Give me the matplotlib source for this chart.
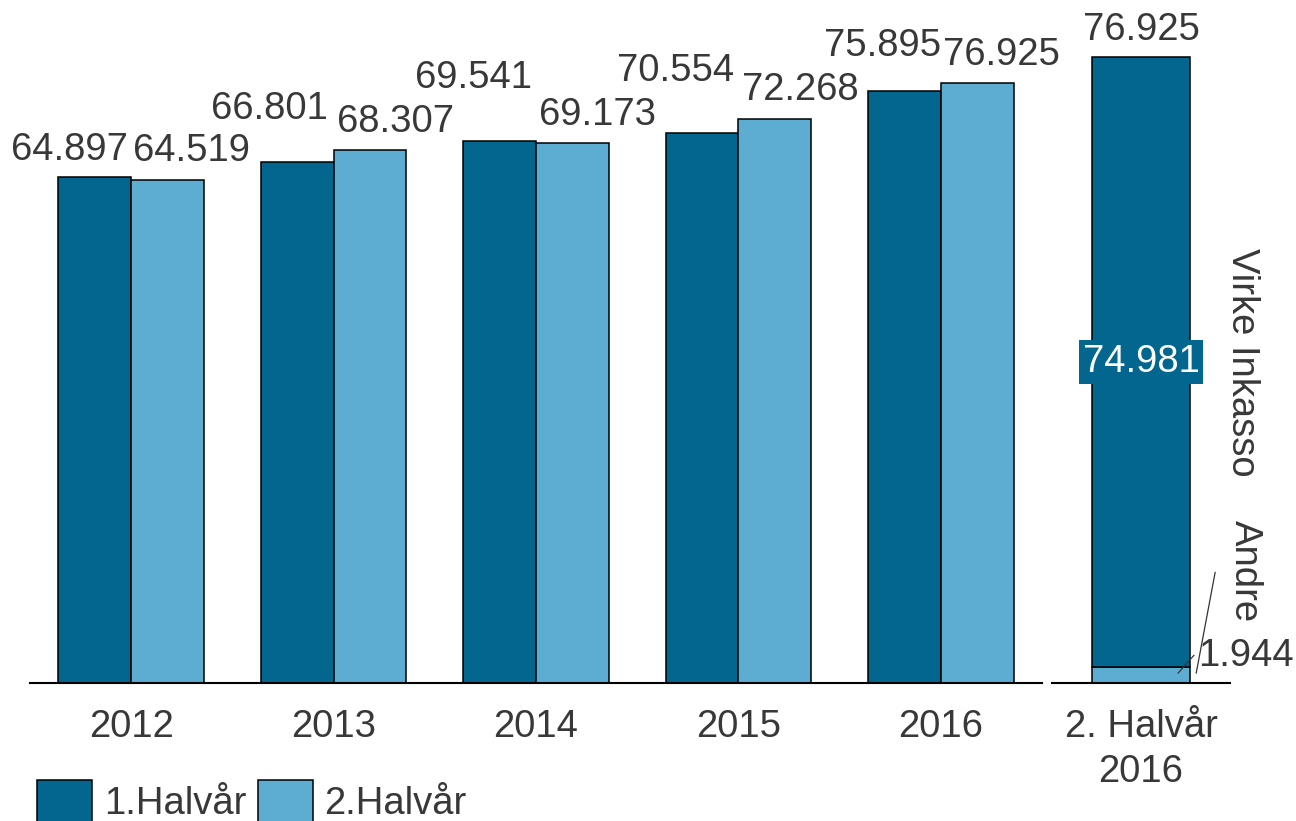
import numpy as np
import matplotlib.pyplot as plt

plt.rcParams['font.family'] = ['Liberation Sans', 'DejaVu Sans']

years = ['2012', '2013', '2014', '2015', '2016']
first_half = [64.897, 66.801, 69.541, 70.554, 75.895]
second_half = [64.519, 68.307, 69.173, 72.268, 76.925]

stack_label = '2. Halvår\n2016'
andre = 1.944
virke = 74.981
stack_total = 76.925

dark = '#02668F'
light = '#5DADD2'
txt = '#383838'
fs = 27.5

# label offsets in pixels (dx, dy) from bar top centre
off_dark = [(-25, 27), (-28, 53), (-26, 63), (-26, 62), (-22, 45)]
off_light = [(24, 29), (25, 28), (25, 28), (25, 29), (24, 28)]

fig = plt.figure(figsize=(12.96, 8.21), dpi=100)
ax = fig.add_axes([30/1296, 138/821, 1012/1296, 624/821])
ax2 = fig.add_axes([1052/1296, 138/821, 178/1296, 651/821])
ax2.patch.set_visible(False)

ind = np.arange(len(years))
w = 0.36
b1 = ax.bar(ind - w/2, first_half, w, color=dark, edgecolor='black', linewidth=1.1, label='1.Halvår')
b2 = ax.bar(ind + w/2, second_half, w, color=light, edgecolor='black', linewidth=1.1, label='2.Halvår')

for i in range(len(years)):
    ax.annotate(f'{first_half[i]:.3f}', xy=(ind[i] - w/2, first_half[i]), xytext=off_dark[i],
                textcoords='offset pixels', ha='center', va='center', fontsize=fs, color=txt,
                annotation_clip=False)
    ax.annotate(f'{second_half[i]:.3f}', xy=(ind[i] + w/2, second_half[i]), xytext=off_light[i],
                textcoords='offset pixels', ha='center', va='center', fontsize=fs, color=txt,
                annotation_clip=False)

ax.set_xlim(-0.5, len(years) - 0.5)
ax.set_ylim(0, 80)
ax.set_xticks(ind)
ax.set_xticklabels(years, fontsize=fs, color=txt)
ax.tick_params(length=0, pad=19)
ax.set_yticks([])
for s in ['top', 'right', 'left']:
    ax.spines[s].set_visible(False)
ax.spines['bottom'].set_linewidth(1.5)

# stacked bar
sw = 0.556
ax2.bar([0], [andre], sw, color=light, edgecolor='black', linewidth=1.1)
ax2.bar([0], [virke], sw, bottom=[andre], color=dark, edgecolor='black', linewidth=1.1)
ax2.set_xlim(-0.5, 0.5)
ax2.set_ylim(0, 80)
ax2.set_xticks([0])
ax2.set_xticklabels([stack_label], fontsize=fs, color=txt, linespacing=1.3)
ax2.tick_params(length=0, pad=19)
ax2.set_yticks([])
for s in ['top', 'right', 'left']:
    ax2.spines[s].set_visible(False)
ax2.spines['bottom'].set_linewidth(1.5)

ax2.annotate(f'{stack_total:.3f}', xy=(0, stack_total), xytext=(0, 27), textcoords='offset pixels',
             ha='center', va='center', fontsize=fs, color=txt, annotation_clip=False)
ax2.text(0, andre + virke/2, f'{virke:.3f}', ha='center', va='center', fontsize=fs, color='white',
         bbox=dict(boxstyle='square,pad=0.1', facecolor=dark, edgecolor='none'))

# 1.944 label with leader line
ax2.annotate(f'{andre:.3f}', xy=(0.208, 1.2), xytext=(68, 17), textcoords='offset pixels',
             ha='center', va='center', fontsize=fs, color=txt, annotation_clip=False)
ax2.annotate('', xy=(0.208, 1.2), xytext=(16, 18), textcoords='offset pixels', annotation_clip=False,
             arrowprops=dict(arrowstyle='-', color='#333333', lw=0.9, shrinkA=0, shrinkB=0))

ax2.text(0.566, andre + virke/2, 'Virke Inkasso', rotation=-90, ha='center', va='center',
         fontsize=fs, color=txt, clip_on=False)

# Andre label with leader line
ax2.annotate('Andre', xy=(0.31, 1.2), xytext=(49, 102), textcoords='offset pixels',
             rotation=-90, ha='center', va='center', fontsize=fs, color=txt, annotation_clip=False)
ax2.annotate('', xy=(0.31, 1.2), xytext=(19, 101), textcoords='offset pixels', annotation_clip=False,
             arrowprops=dict(arrowstyle='-', color='#333333', lw=0.9, shrinkA=0, shrinkB=0))

fig.legend(handles=[b1, b2], labels=['1.Halvår', '2.Halvår'], loc='upper left',
           bbox_to_anchor=(37/1296, 1 - 780/821), frameon=False, ncol=2, fontsize=fs,
           handlelength=1.45, handleheight=1.3, handletextpad=0.3, columnspacing=0.3,
           borderpad=0, borderaxespad=0, labelcolor=txt)

fig.savefig('out.png', dpi=100)
